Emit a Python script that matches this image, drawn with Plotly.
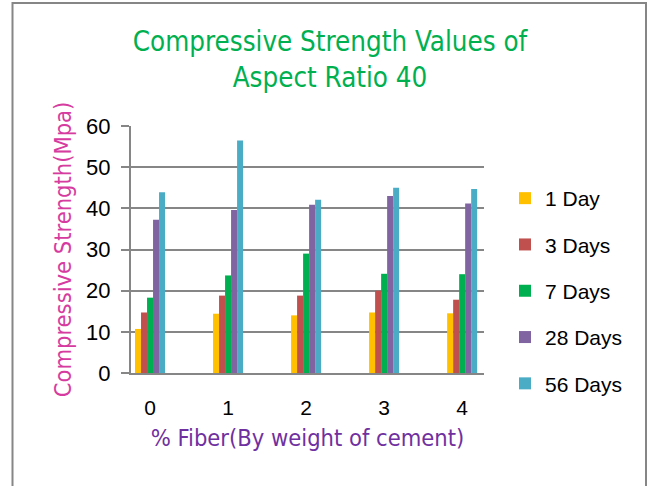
import plotly.graph_objects as go

# % fiber by weight of cement
fiber = [0, 1, 2, 3, 4]

# compressive strength (MPa) by curing age
day1 = [10.7, 14.4, 14.0, 14.7, 14.5]
day3 = [14.7, 18.8, 18.8, 20.0, 17.8]
day7 = [18.3, 23.7, 29.0, 24.1, 24.0]
day28 = [37.2, 39.6, 40.9, 43.0, 41.2]
day56 = [43.9, 56.5, 42.1, 45.0, 44.7]

series = [
    ("1 Day", day1, "#FFC000"),
    ("3 Days", day3, "#C0504D"),
    ("7 Days", day7, "#00B050"),
    ("28 Days", day28, "#8064A2"),
    ("56 Days", day56, "#4BACC6"),
]

W, H = 648, 486
L, R, T, B = 131, 164, 126, 113
pw, ph = W - L - R, H - T - B

def px_x(p):
    return (p - L) / pw

def px_y(p):
    return (H - B - p) / ph

fig = go.Figure()
for i, (name, vals, col) in enumerate(series):
    fig.add_trace(go.Bar(
        x=fiber, y=vals, name=name, legendgroup=str(i),
        marker=dict(color=col, line=dict(width=0)),
    ))

narrow = "DejaVu Sans Condensed, Liberation Sans Narrow, sans-serif"
grid = "#868686"

fig.update_layout(
    width=W, height=H,
    margin=dict(l=L, r=R, t=T, b=B),
    paper_bgcolor="white", plot_bgcolor="white",
    barmode="group", bargap=0.615, bargroupgap=0,
    font=dict(family="Liberation Sans, Arial, sans-serif", color="#000000"),
    title=dict(
        text="Compressive Strength Values of<br>Aspect Ratio 40",
        x=330 / W, xref="container", xanchor="center",
        y=1 - 51 / H, yref="container", yanchor="top",
        font=dict(family=narrow, size=27.5, color="#00B050"),
    ),
    xaxis=dict(
        range=[-0.244, 4.28], tickvals=fiber, ticktext=[str(v) for v in fiber],
        showgrid=False, showline=True, linecolor=grid, linewidth=2,
        ticks="", tickfont=dict(size=21), ticklabelstandoff=15,
        title=dict(text="% Fiber(By weight of cement)",
                   font=dict(family=narrow, size=23.5, color="#7030A0"), standoff=11),
    ),
    yaxis=dict(
        range=[0, 60], dtick=10, showgrid=True, gridcolor=grid, gridwidth=1.5,
        showline=True, linecolor=grid, linewidth=2,
        ticks="outside", ticklen=8, tickcolor=grid, tickwidth=1.5,
        tickfont=dict(size=22), zeroline=False, ticklabelstandoff=6,
        title=dict(text="Compressive Strength(Mpa)",
                   font=dict(family=narrow, size=23.5, color="#D63CA0"), standoff=8),
    ),
    legend=dict(
        x=px_x(505), y=px_y(178), xanchor="left", yanchor="top",
        font=dict(size=21), tracegroupgap=16, bgcolor="rgba(0,0,0,0)",
    ),
    shapes=[dict(
        type="rect", xref="paper", yref="paper",
        x0=px_x(12.5), x1=px_x(646), y0=px_y(500), y1=px_y(3),
        line=dict(color=grid, width=2), fillcolor="rgba(0,0,0,0)", layer="below",
    )],
)

fig.write_html("out.html")
